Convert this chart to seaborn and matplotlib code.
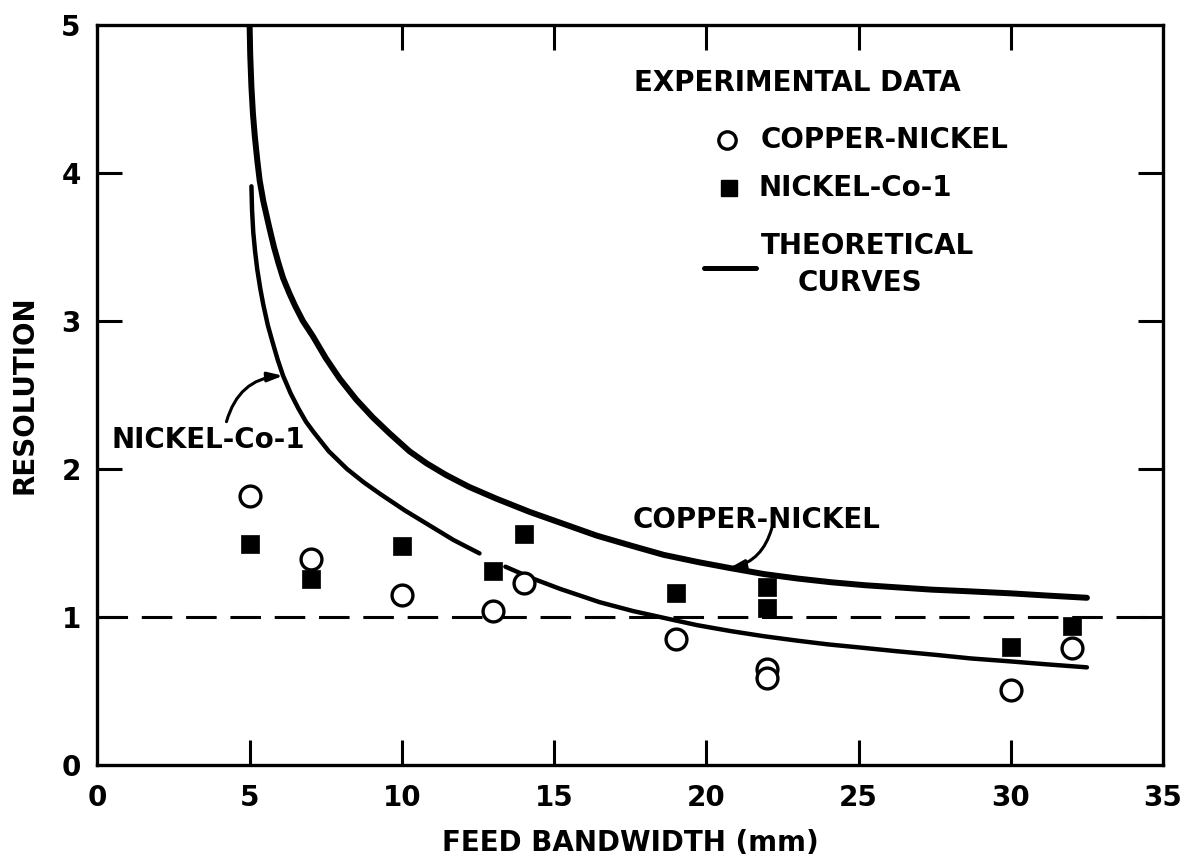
import matplotlib
matplotlib.use("Agg")
import matplotlib.pyplot as plt
import numpy as np
import pandas as pd
import seaborn as sns

# Experimental resolution measurements
bandwidth_mm = [5, 7, 10, 13, 14, 19, 22, 22, 30, 32]
copper_nickel = [1.82, 1.39, 1.15, 1.04, 1.23, 0.85, 0.65, 0.59, 0.51, 0.79]
nickel_bw_mm = [5, 7, 10, 13, 14, 19, 22, 22, 30, 32]
nickel_co1 = [1.49, 1.26, 1.48, 1.31, 1.56, 1.16, 1.20, 1.06, 0.80, 0.94]

# Theoretical curves
cu_theory_x = [5.00, 5.02, 5.06, 5.11, 5.17, 5.25, 5.33, 5.45, 5.56, 5.66, 5.80, 5.95,
               6.10, 6.30, 6.50, 6.75, 7.07, 7.50, 7.96, 8.50, 9.04, 9.60, 10.25, 10.80,
               11.45, 12.2, 13.1, 14.2, 15.3, 16.4, 17.57, 18.6, 19.76, 20.8, 21.9, 23.0,
               24.1, 25.2, 26.3, 27.4, 28.5, 30.0, 31.2, 32.5]
cu_theory_y = [5.00, 4.80, 4.58, 4.40, 4.25, 4.09, 3.95, 3.81, 3.71, 3.62, 3.50, 3.39,
               3.29, 3.19, 3.10, 3.00, 2.90, 2.75, 2.61, 2.47, 2.35, 2.24, 2.12, 2.04,
               1.96, 1.88, 1.80, 1.71, 1.63, 1.55, 1.48, 1.42, 1.37, 1.33, 1.29, 1.26,
               1.235, 1.215, 1.20, 1.185, 1.175, 1.16, 1.145, 1.13]
ni_theory_x = [5.06, 5.08, 5.12, 5.18, 5.25, 5.35, 5.45, 5.60, 5.75, 5.92, 6.10, 6.35,
               6.60, 6.85, 7.10, 7.60, 8.20, 8.75, 9.30, 10.1, 10.9, 11.7, 12.55,
               13.4, 14.3, 15.2, 16.5, 17.6, 18.7, 19.7, 20.8, 21.9, 23.0, 24.0, 25.0,
               26.2, 27.5, 28.7, 30.0, 31.2, 32.5]
ni_theory_y = [3.91, 3.75, 3.60, 3.47, 3.35, 3.22, 3.11, 2.97, 2.86, 2.74, 2.63, 2.51,
               2.41, 2.32, 2.25, 2.12, 2.00, 1.91, 1.83, 1.72, 1.62, 1.52, 1.43,
               1.34, 1.26, 1.19, 1.10, 1.04, 0.99, 0.945, 0.905, 0.87, 0.84, 0.815, 0.795,
               0.77, 0.745, 0.72, 0.70, 0.68, 0.66]
# the curve is broken around the NICKEL-Co-1 point at 13 mm
ni_segment = [0] * 23 + [1] * 18

x_ticks = [0, 5, 10, 15, 20, 25, 30, 35]
y_ticks = [0, 1, 2, 3, 4, 5]

sns.set_style("white")
plt.rcParams["font.family"] = ["DejaVu Sans"]
plt.rcParams["font.weight"] = "bold"
for key in ("text.color", "axes.labelcolor", "xtick.color", "ytick.color", "axes.edgecolor"):
    plt.rcParams[key] = "black"

fig = plt.figure(figsize=(12.02, 8.67), dpi=100)
ax = fig.add_axes([0.081, 0.1176, 0.8866, 0.8536])

cu_df = pd.DataFrame({"bw": cu_theory_x, "res": cu_theory_y})
ni_df = pd.DataFrame({"bw": ni_theory_x, "res": ni_theory_y, "seg": ni_segment})

sns.lineplot(data=cu_df, x="bw", y="res", ax=ax, color="black", lw=4.3,
             estimator=None, sort=False, solid_capstyle="round",
             solid_joinstyle="round", zorder=3)
sns.lineplot(data=ni_df, x="bw", y="res", units="seg", ax=ax, color="black", lw=3.2,
             estimator=None, sort=False, solid_capstyle="round",
             solid_joinstyle="round", zorder=3)

ax.axhline(1.0, color="black", lw=2.2, ls=(0, (10, 4.5)), zorder=2)

sns.scatterplot(x=nickel_bw_mm, y=nickel_co1, ax=ax, marker="s", s=150,
                color="black", edgecolor="black", linewidth=0.5, zorder=4)
sns.scatterplot(x=bandwidth_mm, y=copper_nickel, ax=ax, marker="o", s=225,
                facecolor="white", edgecolor="black", linewidth=2.4, zorder=5)

# Key
txt = dict(fontsize=20, fontweight="bold", color="black", va="center")
ax.text(17.64, 4.61, "EXPERIMENTAL DATA", ha="left", **txt)
ax.plot([20.68], [4.22], marker="o", ms=12.5, mfc="white", mec="black", mew=2.4, ls="none")
ax.text(21.79, 4.22, "COPPER-NICKEL", ha="left", **txt)
ax.plot([20.74], [3.90], marker="s", ms=11, color="black", ls="none")
ax.text(21.72, 3.90, "NICKEL-Co-1", ha="left", **txt)
ax.plot([19.92, 21.63], [3.36, 3.36], color="black", lw=3.6, solid_capstyle="round")
ax.text(21.79, 3.51, "THEORETICAL", ha="left", **txt)
ax.text(25.04, 3.26, "CURVES", ha="center", **txt)

# Curve call-outs
ax.text(0.47, 2.196, "NICKEL-Co-1", ha="left", **txt)
ax.annotate("", xy=(6.1, 2.63), xytext=(4.24, 2.32),
            arrowprops=dict(arrowstyle="-|>,head_length=0.9,head_width=0.28",
                            color="black", lw=2.2, shrinkA=0, shrinkB=0,
                            connectionstyle="arc3,rad=-0.35"))
ax.text(17.57, 1.655, "COPPER-NICKEL", ha="left", **txt)
ax.annotate("", xy=(20.75, 1.33), xytext=(22.15, 1.60),
            arrowprops=dict(arrowstyle="-|>,head_length=0.9,head_width=0.28",
                            color="black", lw=2.2, shrinkA=0, shrinkB=0,
                            connectionstyle="arc3,rad=-0.3"))

ax.set_xlim(0, 35)
ax.set_ylim(0, 5)
ax.set_xticks(x_ticks)
ax.set_yticks(y_ticks)
ax.set_xticklabels([str(v) for v in x_ticks], fontsize=20, fontweight="bold")
ax.set_yticklabels([str(v) for v in y_ticks], fontsize=20, fontweight="bold")
ax.tick_params(axis="both", direction="in", length=18, width=2.2, color="black",
               bottom=True, left=True, top=True, right=True,
               labelbottom=True, labelleft=True, labeltop=False, labelright=False)
ax.tick_params(axis="x", pad=14)
ax.tick_params(axis="y", pad=12)
for ticks in (ax.xaxis.get_major_ticks(), ax.yaxis.get_major_ticks()):
    for t in (ticks[0], ticks[-1]):
        t.tick1line.set_visible(False)
        t.tick2line.set_visible(False)

for sp in ax.spines.values():
    sp.set_visible(True)
    sp.set_color("black")
    sp.set_linewidth(2.4)

ax.set_xlabel("FEED BANDWIDTH (mm)", fontsize=20, fontweight="bold", labelpad=12)
ax.set_ylabel("RESOLUTION", fontsize=20, fontweight="bold", labelpad=16)

fig.savefig("out.png", dpi=100, facecolor="white")
